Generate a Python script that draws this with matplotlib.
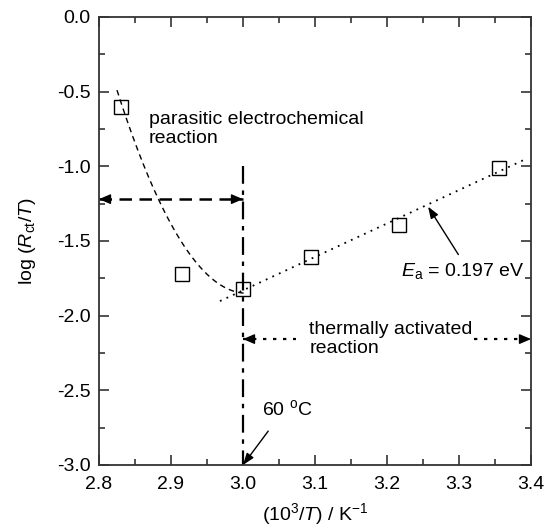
import numpy as np
import matplotlib
matplotlib.use("Agg")
import matplotlib.pyplot as plt
from matplotlib.ticker import MultipleLocator, FormatStrFormatter

plt.rcParams['font.family'] = ['Liberation Sans', 'DejaVu Sans']
plt.rcParams['mathtext.fontset'] = 'custom'
plt.rcParams['mathtext.rm'] = 'Liberation Sans'
plt.rcParams['mathtext.it'] = 'Liberation Sans:italic'

# measured points
inv_t = [2.830, 2.915, 3.000, 3.095, 3.216, 3.356]
log_rt = [-0.60, -1.72, -1.82, -1.61, -1.39, -1.01]

# points
para_x = [2.825, 2.882, 2.940, 3.005]
para_y = [-0.49, -1.215, -1.672, -1.85]

# Arrhenius fit uses the points from 60 C downward
fit_x = inv_t[2:]
fit_y = log_rt[2:]
fit_range = [2.968, 3.39]

t_cut = 3.0
FS = 14

fig = plt.figure(figsize=(5.52, 5.29), dpi=100)
ax = fig.add_axes([0.1793, 0.121, 0.7827, 0.847])

# parasitic branch (quadratic through traced points)
pc = np.polyfit(para_x, para_y, 2)
xs = np.linspace(para_x[0], para_x[-1], 200)
ax.plot(xs, np.polyval(pc, xs), color='black', lw=1.0, ls=(0, (4, 3)))

# linear Arrhenius fit
fc = np.polyfit(fit_x, fit_y, 1)
xf = np.linspace(fit_range[0], fit_range[1], 100)
ax.plot(xf, np.polyval(fc, xf), color='black', lw=1.3, ls=(0, (1, 3)))

ax.plot(inv_t, log_rt, ls='none', marker='s', ms=10, mfc='none',
        mec='black', mew=1.0)

# 60 C boundary
ax.plot([t_cut, t_cut], [-1.0, -3.0], color='black', lw=1.6,
        ls=(0, (8, 3, 2, 3)))

head = dict(arrowstyle='-|>,head_length=0.7,head_width=0.3',
            color='black', lw=1.0, shrinkA=0, shrinkB=0)

# parasitic region arrow
y_par = -1.22
ax.plot([2.8, t_cut], [y_par, y_par], color='black', lw=1.8, ls=(0, (5, 3)))
ax.annotate('', xy=(2.8, y_par), xytext=(2.81, y_par), arrowprops=head)
ax.annotate('', xy=(t_cut, y_par), xytext=(t_cut - 0.01, y_par), arrowprops=head)

# thermally activated region arrow
y_th = -2.157
ax.plot([t_cut, 3.074], [y_th, y_th], color='black', lw=1.6, ls=(0, (1.5, 3)))
ax.plot([3.321, 3.4], [y_th, y_th], color='black', lw=1.6, ls=(0, (1.5, 3)))
ax.annotate('', xy=(t_cut, y_th), xytext=(t_cut + 0.01, y_th), arrowprops=head)
ax.annotate('', xy=(3.4, y_th), xytext=(3.39, y_th), arrowprops=head)

ax.text(2.869, -0.75, 'parasitic electrochemical\nreaction', fontsize=FS,
        va='center', ha='left', linespacing=1.15)
ax.text(3.092, -2.155, 'thermally activated\nreaction', fontsize=FS,
        va='center', ha='left', linespacing=1.15)

small_head = dict(arrowstyle='-|>,head_length=0.5,head_width=0.18',
                  color='black', lw=1.0, shrinkB=0)

ax.annotate(r'60 $^{\mathrm{o}}$C', xy=(t_cut, -3.0), xytext=(3.026, -2.628),
            fontsize=FS, va='center', ha='left',
            arrowprops=dict(small_head, shrinkA=8, relpos=(0.3, 0.0)))

ax.annotate(r'$E_{\mathrm{a}}$ = 0.197 eV', xy=(3.257, -1.27),
            xytext=(3.219, -1.70), fontsize=FS, va='center', ha='left',
            arrowprops=dict(small_head, shrinkA=3, relpos=(0.5, 1.0)))

ax.set_xlim(2.8, 3.4)
ax.set_ylim(-3.0, 0.0)
ax.xaxis.set_major_locator(MultipleLocator(0.1))
ax.xaxis.set_minor_locator(MultipleLocator(0.05))
ax.yaxis.set_major_locator(MultipleLocator(0.5))
ax.yaxis.set_minor_locator(MultipleLocator(0.25))
ax.xaxis.set_major_formatter(FormatStrFormatter('%.1f'))
ax.yaxis.set_major_formatter(FormatStrFormatter('%.1f'))
ax.tick_params(which='both', direction='in', top=True, right=True,
               labelsize=FS, width=1.2, color='#333333')
ax.tick_params(which='major', length=7)
ax.tick_params(axis='x', which='major', pad=8)
ax.tick_params(axis='y', which='major', pad=6)
ax.tick_params(which='minor', length=4)
for s in ax.spines.values():
    s.set_linewidth(1.3)
    s.set_color('#333333')

ax.set_xlabel(r'(10$^{3}$/$T$) / K$^{-1}$', fontsize=FS, labelpad=6)
ax.set_ylabel(r'log ($R_{\mathrm{ct}}$/$T$)', fontsize=FS, labelpad=14)

fig.savefig('out.png', dpi=100)
